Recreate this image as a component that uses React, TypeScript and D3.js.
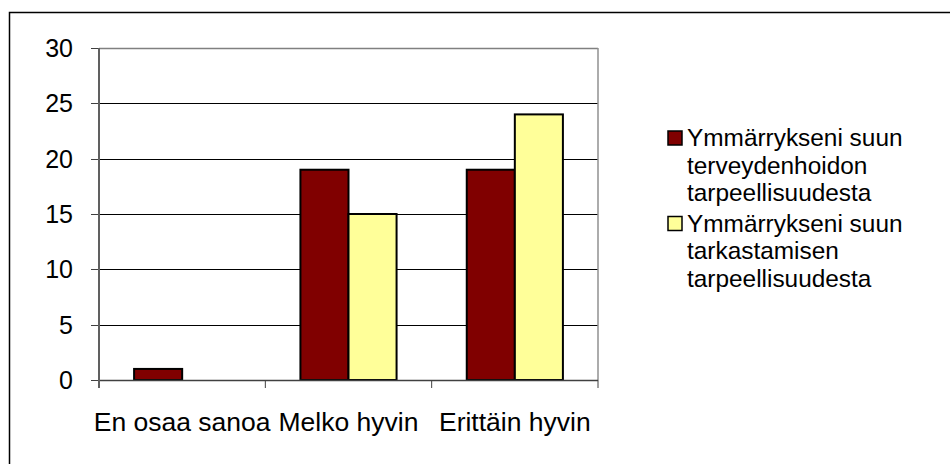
import React from "react";
import * as d3 from "d3";

const categories = ["En osaa sanoa", "Melko hyvin", "Erittäin hyvin"];
const seriesNames = [
  ["Ymmärrykseni suun", "terveydenhoidon", "tarpeellisuudesta"],
  ["Ymmärrykseni suun", "tarkastamisen", "tarpeellisuudesta"],
];
const seriesA = [1, 19, 19];
const seriesB = [0, 15, 24];
const yTicks = [0, 5, 10, 15, 20, 25, 30];
const colors = ["#800000", "#FFFF99"];

export default function App() {
  const W = 950, H = 464;
  const left = 99, right = 598, top = 48, bottom = 380;
  const x = d3.scaleBand<string>().domain(categories).range([left, right]).paddingInner(0).paddingOuter(0);
  const inner = d3.scaleBand<number>().domain([0, 1]).range([0, x.bandwidth()]).paddingOuter(0.73).paddingInner(0);
  const y = d3.scaleLinear().domain([0, 30]).range([bottom, top]);
  const series = [seriesA, seriesB];
  const font = "'Liberation Sans', Arial, sans-serif";

  return (
    <div style={{ position: "absolute", left: 0, top: 0 }}>
      <svg width={W} height={H} style={{ display: "block", background: "#fff" }} fontFamily={font}>
        <rect x={9.5} y={12.5} width={W + 10} height={H + 10} fill="#fff" stroke="#000" strokeWidth={1.5} />
        {yTicks.map((t) => (
          <g key={t}>
            <line x1={left} x2={right} y1={Math.round(y(t)) + 0.5} y2={Math.round(y(t)) + 0.5} stroke={t === 30 ? "#808080" : "#000"} strokeWidth={t === 30 ? 1.5 : 1} />
            <line x1={91} x2={left} y1={Math.round(y(t)) + 0.5} y2={Math.round(y(t)) + 0.5} stroke="#404040" strokeWidth={1} />
            <text x={73} y={y(t) + 9} textAnchor="end" fontSize={25} fill="#000">{t}</text>
          </g>
        ))}
        <line x1={right} x2={right} y1={top} y2={bottom} stroke="#909090" strokeWidth={1.5} />
        {categories.map((c, i) =>
          series.map((s, j) =>
            s[i] > 0 ? (
              <rect key={c + j} x={x(c)! + inner(j)!} y={y(s[i])} width={inner.bandwidth()} height={y(0) - y(s[i])} fill={colors[j]} stroke="#000" strokeWidth={2} />
            ) : null
          )
        )}
        <line x1={left} x2={right} y1={bottom + 0.5} y2={bottom + 0.5} stroke="#404040" strokeWidth={1.5} />
        <line x1={left} x2={left} y1={top} y2={bottom + 8} stroke="#606060" strokeWidth={2} />
        {[1, 2, 3].map((k) => (
          <line key={k} x1={left + k * x.bandwidth()} x2={left + k * x.bandwidth()} y1={bottom} y2={bottom + 8} stroke="#404040" strokeWidth={1} />
        ))}
        {categories.map((c) => (
          <text key={c} x={x(c)! + x.bandwidth() / 2} y={431} textAnchor="middle" fontSize={26.5} fill="#000">{c}</text>
        ))}
        {seriesNames.map((lines, j) => (
          <g key={j}>
            <rect x={668} y={131 + j * 85.5} width={14} height={14} fill={colors[j]} stroke="#000" strokeWidth={1.5} />
            {lines.map((ln, k) => (
              <text key={k} x={687} y={146 + j * 85.5 + k * 27.7} fontSize={24.4} fill="#000">{ln}</text>
            ))}
          </g>
        ))}
      </svg>
    </div>
  );
}
